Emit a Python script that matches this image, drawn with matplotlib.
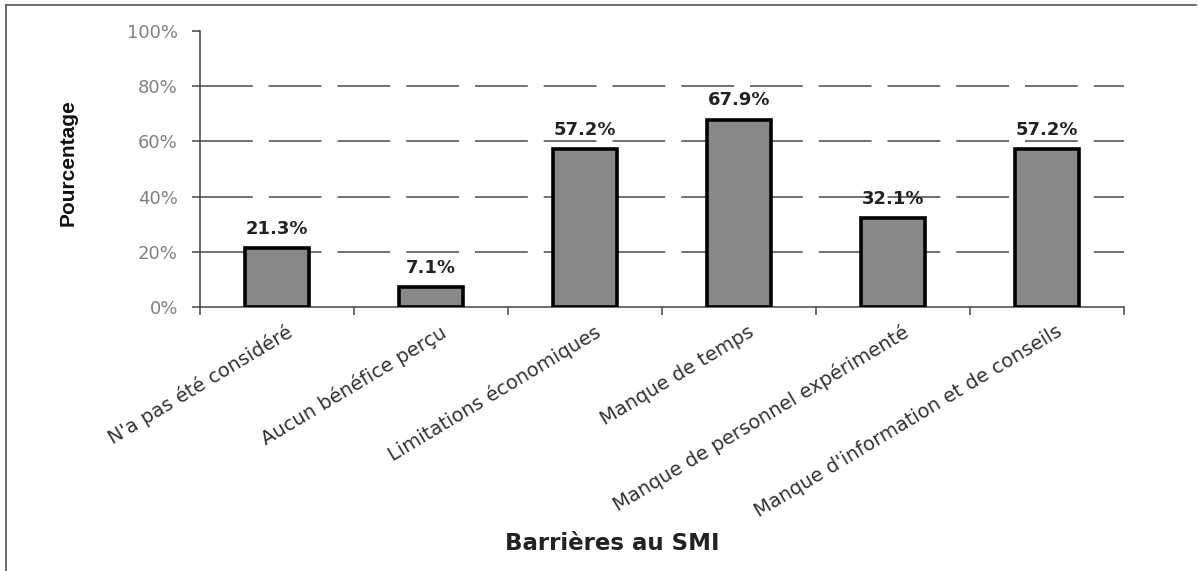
import numpy as np
import matplotlib
matplotlib.use("Agg")
import matplotlib.pyplot as plt
from matplotlib.lines import Line2D
from matplotlib.transforms import ScaledTranslation

categories = ["N'a pas été considéré", "Aucun bénéfice perçu", "Limitations économiques",
              "Manque de temps", "Manque de personnel expérimenté",
              "Manque d'information et de conseils"]
values = [21.3, 7.1, 57.2, 67.9, 32.1, 57.2]
yticks = [0, 20, 40, 60, 80, 100]
ytick_labels = ["0%", "20%", "40%", "60%", "80%", "100%"]

plt.rcParams['font.family'] = ['DejaVu Sans']
plt.rcParams['lines.scale_dashes'] = False

W, H = 1198, 571
fig = plt.figure(figsize=(W/100, H/100), dpi=100)
ax = fig.add_axes([200/W, 1 - 307/H, (1124-200)/W, (307-31)/H])

x = np.arange(len(categories))
ax.bar(x, values, width=0.415, color="#888888", edgecolor="black", linewidth=2.6, zorder=3)
for xi, v in zip(x, values):
    ax.text(xi, v + 5.2, f"{v:.1f}%", ha="center", va="baseline", fontsize=13,
            fontweight="bold", color="#222222", zorder=4)

ax.set_xlim(-0.5, len(categories) - 0.5)
ax.set_ylim(0, 100)
for g in yticks[1:-1]:
    ax.axhline(g, color="#4a4a4a", lw=1.1, linestyle=(0, (38, 11.5)), zorder=1)

for s in ["top", "right"]:
    ax.spines[s].set_visible(False)
for s in ["left", "bottom"]:
    ax.spines[s].set_color("#444444")
    ax.spines[s].set_linewidth(1.1)

ax.set_yticks(yticks)
ax.set_yticklabels(ytick_labels, fontsize=13, color="#808080")
ax.tick_params(axis="y", direction="out", length=6, width=1.1, color="#444444", pad=10)

ax.set_xticks(x)
ax.set_xticklabels(categories, rotation=31, ha="right", va="top", rotation_mode="anchor",
                   fontsize=14, color="#333333")
ax.tick_params(axis="x", which="major", length=0, pad=11)
ax.set_xticks(np.arange(-0.5, len(categories)), minor=True)
ax.tick_params(axis="x", which="minor", direction="out", length=6, width=1.1, color="#444444")
off = ScaledTranslation(9/100, 0, fig.dpi_scale_trans)
for lab in ax.get_xticklabels():
    lab.set_transform(lab.get_transform() + off)

fig.text(68/W, 1 - 163/H, "Pourcentage", rotation=90, ha="center", va="center",
         fontsize=15, fontweight="bold",
         family=['Liberation Sans Narrow', 'Liberation Sans'], color="#111111")
fig.text(612/W, 1 - 543/H, "Barrières au SMI", ha="center", va="center",
         fontsize=16.5, fontweight="bold", color="#222222")

# outer frame
fig.add_artist(Line2D([6/W, 1196/W], [1 - 5/H, 1 - 5/H], color="#555555", lw=1.2))
fig.add_artist(Line2D([6/W, 6/W], [0, 1 - 5/H], color="#555555", lw=1.2))

fig.savefig("out.png", dpi=100)
